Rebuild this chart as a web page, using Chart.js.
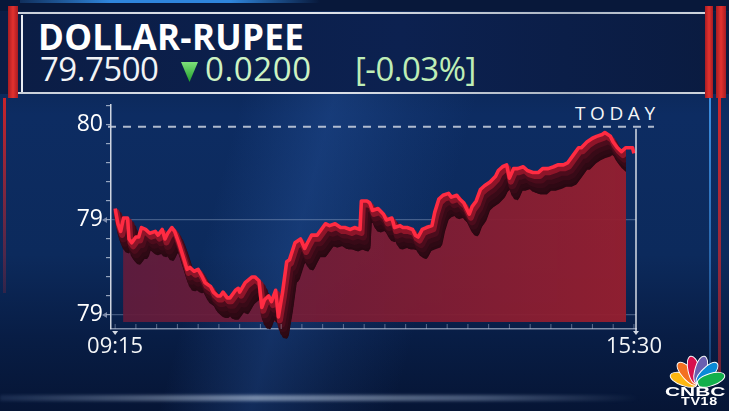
<!DOCTYPE html>
<html>
<head>
<meta charset="utf-8">
<script src="https://cdn.jsdelivr.net/npm/chart.js@4.4.1/dist/chart.umd.min.js"></script>
<style>
  html, body { margin: 0; padding: 0; }
  body {
    width: 729px; height: 411px; overflow: hidden; position: relative;
    font-family: 'Open Sans', sans-serif;
    background:
      linear-gradient(105deg, rgba(0,0,0,0) 32%, rgba(45,95,175,0.30) 43%, rgba(45,95,175,0.12) 52%, rgba(0,0,0,0) 60%),
      linear-gradient(180deg, #0a1d44 0%, #0d2c62 28%, #0c2a5c 62%, #081d45 82%, #061535 100%);
  }
  .topstrip { position: absolute; left: 0; top: 0; width: 729px; height: 11px; background: #08183a; }
  .topglow { position: absolute; left: 20px; top: 0; width: 300px; height: 3px;
    background: linear-gradient(90deg, rgba(50,140,230,0.2), #2f86dc 30%, #2f86dc 70%, rgba(50,140,230,0)); }
  .header { position: absolute; left: 0; top: 12px; width: 729px; height: 82px;
    background: linear-gradient(90deg, #0b1d45 0%, #0c2150 55%, #0a1b40 100%); }
  .hline { position: absolute; left: 18px; width: 690px; height: 2px;
    background: linear-gradient(90deg, #c9d0da, #e4e8ee 40%, #aab4c2 80%, #d0d6de); }
  .redbar { position: absolute; background: linear-gradient(90deg, #a81c22, #e2322f 50%, #a81c22); }
  .thin { position: absolute; }
  .txt { position: absolute; white-space: nowrap; line-height: 1; }
  .title { left: 38px; top: 19px; font-size: 35px; font-weight: 700; color: #ffffff; letter-spacing: 0.3px; }
  .price { left: 40px; top: 52px; font-size: 33px; color: #f2f4f6; letter-spacing: -0.5px; }
  .chg { left: 205px; top: 52px; font-size: 33px; color: #cdf3c3; letter-spacing: 0.6px; }
  .pct { left: 355px; top: 52px; font-size: 33px; color: #bfeeb6; letter-spacing: -0.5px; }
  .tri { position: absolute; left: 181px; top: 62px; width: 17px; height: 20px;
    background: linear-gradient(180deg, #7ee07a, #1e9e2a);
    clip-path: polygon(0 0, 100% 0, 50% 100%); }
  .today { left: 575px; top: 104px; font-size: 19px; color: #f4f6f8; letter-spacing: 4.6px; font-weight: 500; }
  #chartWrap { position: absolute; left: 0; top: 0; width: 729px; height: 411px; }
  .bottomglow { position: absolute; left: 0; top: 395px; width: 640px; height: 6px;
    background: linear-gradient(90deg, rgba(120,150,200,0.15), rgba(200,215,235,0.55) 40%, rgba(180,200,230,0.35) 75%, rgba(150,170,210,0)); filter: blur(1.5px); }
  .feather { position: absolute; width: 13px; height: 29px; border-radius: 50% 50% 40% 40%;
    transform-origin: 50% 100%; left: 691px; top: 355px; border: 1px solid #ffffff; box-sizing: border-box; }
  .cnbc { left: 665px; top: 385px; font-family: 'Liberation Sans', sans-serif; font-weight: 700; font-size: 13.5px;
    color: #fff; transform: scaleX(1.55); transform-origin: 0 0; }
  .tv18 { left: 681px; top: 396px; font-family: 'Liberation Sans', sans-serif; font-weight: 700; font-size: 11px;
    color: #fff; transform: scaleX(1.3); transform-origin: 0 0; letter-spacing: 0.5px; }
</style>
</head>
<body>
<div class="topstrip"></div>
<div class="topglow"></div>
<div class="header"></div>
<div class="hline" style="top:12px"></div>
<div class="hline" style="top:92px"></div>
<div class="redbar" style="left:8px;top:6px;width:10px;height:92px"></div>
<div class="thin" style="left:21px;top:15px;width:2px;height:77px;background:#e8ecf2"></div>
<div class="redbar" style="left:705px;top:6px;width:8px;height:92px"></div>
<div class="redbar" style="left:716px;top:6px;width:10px;height:92px"></div>
<div class="thin" style="left:3px;top:98px;width:3px;height:195px;background:linear-gradient(180deg,#c8242a,rgba(200,36,42,0.2))"></div>
<div class="thin" style="left:709px;top:98px;width:2px;height:275px;background:linear-gradient(180deg,#3d8fe0,rgba(61,143,224,0.3))"></div>
<div class="thin" style="left:718px;top:98px;width:3px;height:275px;background:linear-gradient(180deg,#d0282d,rgba(208,40,45,0.5))"></div>

<div class="txt title">DOLLAR-RUPEE</div>
<div class="txt price">79.7500</div>
<div class="tri"></div>
<div class="txt chg">0.0200</div>
<div class="txt pct">[-0.03%]</div>
<div class="txt today">TODAY</div>

<div class="bottomglow"></div>

<div id="chartWrap"><canvas id="grafico"></canvas></div>

<div class="feather" style="background:#fcb711;transform:rotate(-72deg)"></div>
<div class="feather" style="background:#f37021;transform:rotate(-43deg)"></div>
<div class="feather" style="background:#d8104d;transform:rotate(-14deg)"></div>
<div class="feather" style="background:#6a5fb0;transform:rotate(14deg)"></div>
<div class="feather" style="background:#0a8ad6;transform:rotate(43deg)"></div>
<div class="feather" style="background:#12b04c;transform:rotate(72deg)"></div>
<div class="txt cnbc">CNBC</div>
<div class="txt tv18">TV18</div>

<script>
// minutes since 09:15 and the rate
const minutos = [
    0, 2, 4, 6, 9, 10, 12, 15, 17, 19, 22, 25, 29, 31, 34, 36, 38, 41, 43, 46,
    49, 52, 54, 57, 60, 63, 65, 69, 71, 74, 76, 78, 81, 83, 87, 89, 90, 94, 99, 101,
    104, 106, 108, 111, 113, 116, 118, 121, 124, 126, 130, 134, 137, 139, 142, 146, 149, 152, 155, 159,
    163, 166, 170, 173, 177, 178, 182, 184, 186, 190, 194, 196, 200, 202, 206, 208, 211, 215, 217, 219,
    222, 225, 229, 231, 234, 237, 241, 243, 247, 249, 252, 256, 258, 261, 264, 267, 271, 275, 277, 280,
    283, 285, 288, 291, 295, 298, 302, 306, 309, 313, 317, 320, 324, 327, 331, 335, 337, 341, 345, 348,
    352, 354, 358, 360, 363, 366, 369, 371, 374, 375,
];
const cotacoes = [
    79.46, 79.38, 79.34, 79.41, 79.41, 79.30, 79.28, 79.31, 79.31, 79.36, 79.35, 79.33, 79.34, 79.32, 79.35, 79.30, 79.33, 79.36, 79.34, 79.28,
    79.21, 79.14, 79.15, 79.13, 79.14, 79.10, 79.07, 79.05, 79.02, 79.00, 79.00, 79.02, 78.99, 78.99, 79.03, 79.04, 79.02, 79.07, 79.10, 79.10,
    79.08, 78.94, 78.98, 79.00, 78.97, 79.03, 78.89, 79.02, 79.18, 79.19, 79.28, 79.30, 79.25, 79.28, 79.32, 79.32, 79.35, 79.38, 79.37, 79.38,
    79.36, 79.36, 79.35, 79.36, 79.35, 79.50, 79.50, 79.49, 79.45, 79.46, 79.43, 79.40, 79.41, 79.36, 79.37, 79.36, 79.36, 79.35, 79.32, 79.31,
    79.35, 79.36, 79.37, 79.44, 79.51, 79.53, 79.54, 79.52, 79.53, 79.51, 79.49, 79.43, 79.47, 79.50, 79.56, 79.58, 79.60, 79.63, 79.66, 79.68,
    79.69, 79.62, 79.67, 79.67, 79.68, 79.66, 79.65, 79.65, 79.67, 79.67, 79.68, 79.69, 79.69, 79.70, 79.74, 79.78, 79.78, 79.81, 79.83, 79.84,
    79.85, 79.86, 79.84, 79.81, 79.78, 79.76, 79.78, 79.78, 79.78, 79.75,
];
const fechamentoAnterior = 79.89;
const ticksEixoY = [78.9, 79.0, 79.1, 79.2, 79.3, 79.4, 79.5, 79.6, 79.7, 79.8, 79.9, 80.0];
const ticksComRotulo = [78.9, 79.4, 79.9];
const ticksEixoX = [0, 15, 30, 45, 60, 75, 90, 105, 120, 135, 150, 165, 180, 195, 210, 225, 240, 255, 270, 285, 300, 315, 330, 345, 360, 375];
const ticksXComRotulo = [0, 375];

const FONTE = "'Open Sans', sans-serif";

function formatarHora(min) {
    const total = 9 * 60 + 15 + min;
    const h = Math.floor(total / 60);
    const m = total % 60;
    return String(h).padStart(2, '0') + ':' + String(m).padStart(2, '0');
}

function temRotulo(v) {
    return ticksComRotulo.some((t) => Math.abs(t - v) < 0.001);
}

const pontos = minutos.map((m, i) => ({ x: m, y: cotacoes[i] }));

function gradienteCorpo(ctx, area) {
    const g = ctx.createLinearGradient(area.left, 0, area.right, 0);
    g.addColorStop(0, 'rgba(98,28,60,0.93)');
    g.addColorStop(0.45, 'rgba(122,28,52,0.94)');
    g.addColorStop(1, 'rgba(150,31,47,0.96)');
    return g;
}

// each copy of the line is shifted a little to fake the 3D extrusion
const pluginRelevo = {
    id: 'relevo',
    beforeDatasetDraw(chart, args) {
        const ds = chart.data.datasets[args.index];
        if (!ds.deslocamento) return;
        const ctx = chart.ctx;
        const [dx, dy] = ds.deslocamento;
        ctx.save();
        ctx.translate(dx, dy);
        if (ds.corpo) {
            const area = chart.chartArea;
            const pts = chart.getDatasetMeta(args.index).data;
            ctx.save();
            ctx.beginPath();
            ctx.rect(area.left, area.top, area.right - 10 - dx - area.left, area.bottom - 7 - dy - area.top);
            ctx.clip();
            ctx.beginPath();
            pts.forEach((p, i) => (i ? ctx.lineTo(p.x, p.y) : ctx.moveTo(p.x, p.y)));
            ctx.lineTo(pts[pts.length - 1].x, area.bottom);
            ctx.lineTo(pts[0].x, area.bottom);
            ctx.closePath();
            ctx.fillStyle = gradienteCorpo(ctx, area);
            ctx.fill();
            ctx.restore();
        }
    },
    afterDatasetDraw(chart, args) {
        if (chart.data.datasets[args.index].deslocamento) chart.ctx.restore();
    },
    beforeDatasetsDraw(chart) {
        const ctx = chart.ctx;
        const area = chart.chartArea;
        const y = chart.scales.y.getPixelForValue(fechamentoAnterior);
        ctx.save();
        ctx.strokeStyle = 'rgba(205,212,225,0.85)';
        ctx.lineWidth = 2;
        ctx.setLineDash([8, 7]);
        ctx.beginPath();
        ctx.moveTo(area.left - 3, y);
        ctx.lineTo(area.right + 18, y);
        ctx.stroke();
        ctx.restore();
    },
    afterDraw(chart) {
        const ctx = chart.ctx;
        const area = chart.chartArea;
        const xs = chart.scales.x;
        const ys = chart.scales.y;
        ctx.save();
        ctx.strokeStyle = 'rgba(190,200,225,0.45)';
        ctx.lineWidth = 1;
        for (const t of ticksEixoX) {
            const x = xs.getPixelForValue(t);
            ctx.beginPath();
            ctx.moveTo(x, area.bottom);
            ctx.lineTo(x, area.bottom - 5);
            ctx.stroke();
        }
        const xHoje = area.right;
        ctx.strokeStyle = 'rgba(235,238,245,0.9)';
        ctx.lineWidth = 1.5;
        ctx.beginPath();
        ctx.moveTo(xHoje, ys.getPixelForValue(fechamentoAnterior) + 2);
        ctx.lineTo(xHoje, area.bottom + 2);
        ctx.stroke();
        ctx.fillStyle = 'rgba(235,238,245,0.9)';
        for (const x of [xHoje, xs.getPixelForValue(0)]) {
            ctx.beginPath();
            ctx.moveTo(x - 3, area.bottom + 2);
            ctx.lineTo(x + 3, area.bottom + 2);
            ctx.lineTo(x, area.bottom + 6);
            ctx.fill();
        }
        ctx.fillStyle = 'rgba(170,180,205,0.7)';
        for (const v of [78.9, 79.4]) {
            const y = ys.getPixelForValue(v);
            ctx.beginPath();
            ctx.moveTo(area.left - 9, y);
            ctx.lineTo(area.left - 4, y - 3);
            ctx.lineTo(area.left - 4, y + 3);
            ctx.fill();
        }
        ctx.restore();
    },
};

function copia(cor, largura, desloc, extra) {
    return Object.assign({
        data: pontos,
        borderColor: cor,
        borderWidth: largura,
        pointRadius: 0,
        fill: false,
        borderJoinStyle: 'round',
        borderCapStyle: 'round',
        deslocamento: desloc,
        clip: { left: 0, top: 0, right: -(10 + desloc[0]), bottom: 0 },
    }, extra || {});
}

new Chart(document.getElementById('grafico'), {
    type: 'line',
    data: {
        datasets: [
            {
                data: pontos,
                borderColor: '#ff2b42',
                borderWidth: 3.6,
                pointRadius: 0,
                fill: false,
                borderJoinStyle: 'round',
            },
            copia('#8e1529', 6, [1.5, 3.5]),
            copia('#4c0c1c', 8, [3, 7]),
            copia('#380a17', 9, [4.5, 11]),
            copia('#2e0914', 9, [6, 15]),
            copia('#2a0812', 7, [7, 18]),
            copia('rgba(36,8,18,0.9)', 2, [8, 21], { corpo: true }),
        ],
    },
    options: {
        responsive: true,
        maintainAspectRatio: false,
        animation: false,
        layout: { padding: { top: 105, right: 93, left: 0, bottom: 0 } },
        plugins: { legend: { display: false }, tooltip: { enabled: false } },
        scales: {
            x: {
                type: 'linear',
                min: -3,
                max: 376.5,
                afterBuildTicks: (s) => { s.ticks = ticksEixoX.map((v) => ({ value: v })); },
                afterFit: (s) => { s.height = 82; },
                border: { color: 'rgba(200,210,230,0.6)', width: 1.5 },
                grid: { display: false },
                ticks: {
                    autoSkip: false,
                    maxRotation: 0,
                    padding: -3,
                    color: '#f4f6f8',
                    font: { family: FONTE, size: 22 },
                    callback: (v) => (ticksXComRotulo.includes(v) ? formatarHora(v) : ''),
                },
            },
            y: {
                min: 78.826,
                max: 80.005,
                afterBuildTicks: (s) => { s.ticks = ticksEixoY.map((v) => ({ value: v })); },
                afterFit: (s) => { s.width = 111; },
                border: { color: 'rgba(228,232,240,0.9)', width: 1.5 },
                grid: {
                    color: (c) => (c.tick && temRotulo(c.tick.value) && c.tick.value < 79.8 ? 'rgba(170,185,215,0.35)' : 'rgba(0,0,0,0)'),
                    tickColor: 'rgba(210,220,235,0.7)',
                    tickLength: 5,
                    lineWidth: 1.2,
                },
                ticks: {
                    autoSkip: false,
                    padding: 3,
                    color: '#ffffff',
                    font: { family: FONTE, size: 23 },
                    callback: (v) => (temRotulo(v) ? String(Math.round(v)) : ''),
                },
            },
        },
    },
    plugins: [pluginRelevo],
});
</script>
</body>
</html>
